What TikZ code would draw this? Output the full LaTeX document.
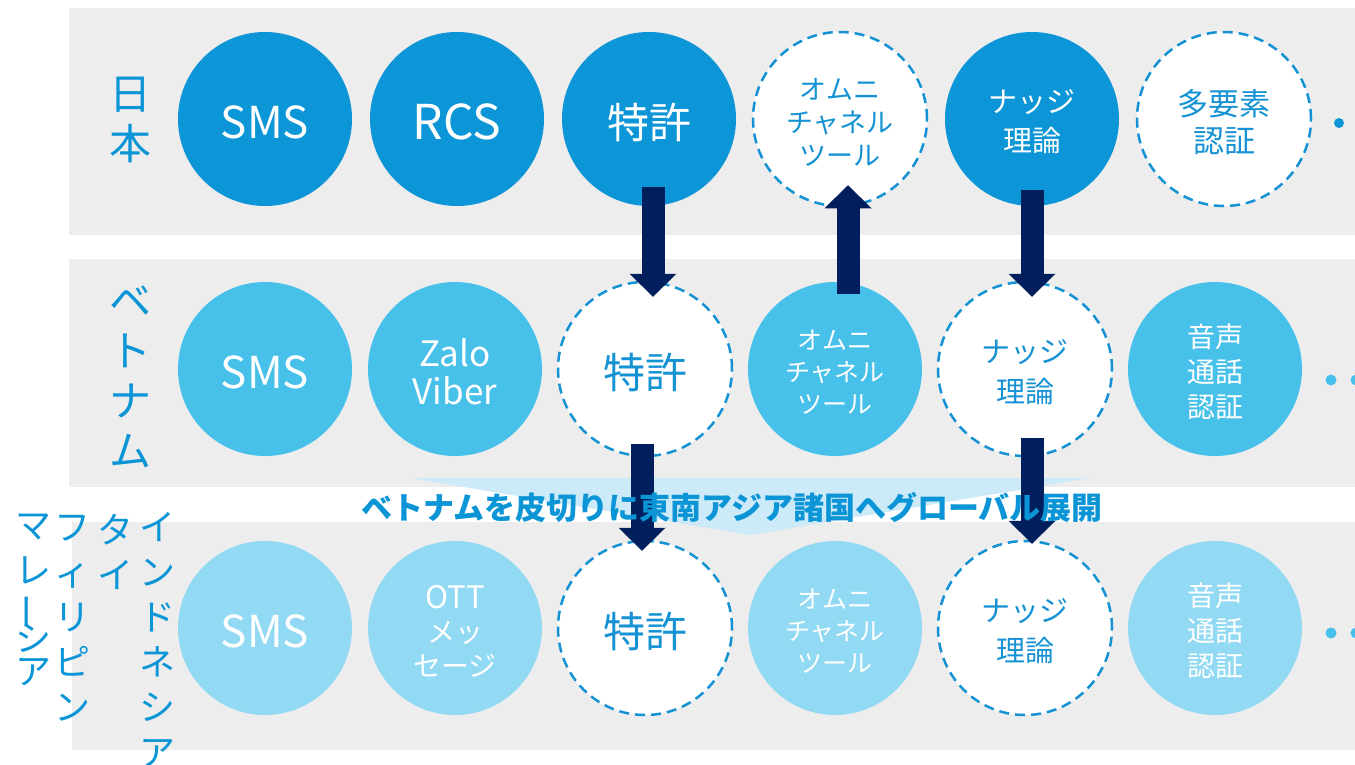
\documentclass[tikz,border=0pt]{standalone}
\usepackage{fontspec}
\usepackage{graphicx}
\setmainfont{Noto Sans CJK JP}
\usetikzlibrary{arrows.meta,calc}
\definecolor{c1}{HTML}{0C95D7}
\definecolor{c2}{HTML}{47C0EA}
\definecolor{c3}{HTML}{92DAF3}
\definecolor{dashc}{HTML}{1592D4}
\definecolor{navy}{HTML}{001F5C}
\definecolor{bandc}{HTML}{EDEDED}
\definecolor{chev}{HTML}{CDEAF9}
\definecolor{lbl}{HTML}{0B95D6}
\newcommand\fz[2]{\fontsize{#1}{#2}\selectfont}
\newcommand\dn[1]{\raisebox{-3pt}[\height][\depth]{#1}}
\tikzset{
 circ/.style={circle, minimum size=174pt, inner sep=0pt, align=center},
 fillA/.style={circ, fill=c1, text=white},
 fillB/.style={circ, fill=c2, text=white},
 fillC/.style={circ, fill=c3, text=white},
 dashcirc/.style={circ, fill=white, draw=dashc, line width=2.5pt, dash pattern=on 10pt off 6pt, text=dashc},
 bigarrow/.style={draw=navy, line width=23pt, -{Triangle[width=47pt,length=23pt,line width=0pt]}},
 bandbox/.style={fill=bandc},
 vlabel/.style={text=lbl, align=center, inner sep=0pt},
 dotA/.style={circle, fill=c1, minimum size=10pt, inner sep=0pt},
 dotB/.style={circle, fill=c2, minimum size=11pt, inner sep=0pt},
}
\begin{document}
\begin{tikzpicture}[x=1pt,y=-1pt]
\useasboundingbox (0,0) rectangle (1355,764);
\fill[white] (0,0) rectangle (1355,764);
% bands
\fill[bandbox] (69,8) rectangle (1355,235);
\fill[bandbox] (69,259) rectangle (1355,487);
\fill[bandbox] (72,522) rectangle (1355,750);
% chevron
\fill[chev] (410,478) -- (1090,478) -- (750,535) -- cycle;
% row 1
\node[fillA, font=\fz{44}{50}] (r1c1) at (265,119) {\dn{SMS}};
\node[fillA, font=\fz{48}{54}] (r1c2) at (457,119) {\dn{RCS}};
\node[fillA, font=\fz{42}{48}] (r1c3) at (649,119) {\dn{特許}};
\node[dashcirc, font=\fz{27}{33}] (r1c4) at (840,119) {\dn{オムニ}\\\dn{チャネル}\\\dn{ツール}};
\node[fillA, font=\fz{29}{39}] (r1c5) at (1032,119) {\dn{ナッジ}\\\dn{理論}};
\node[dashcirc, font=\fz{31}{37}] (r1c6) at (1224,119) {\dn{多要素}\\\dn{認証}};
\node[dotA] (d1) at (1339,123) {};
% row 2
\node[fillB, font=\fz{44}{50}] (r2c1) at (265,369) {\dn{SMS}};
\node[fillB, font=\fz{35}{38}] (r2c2) at (455,369) {\dn{Zalo}\\\dn{Viber}};
\node[dashcirc, font=\fz{42}{48}] (r2c3) at (645,369) {\dn{特許}};
\node[fillB, font=\fz{25}{32}] (r2c4) at (835,369) {\dn{オムニ}\\\dn{チャネル}\\\dn{ツール}};
\node[dashcirc, font=\fz{29}{40}] (r2c5) at (1025,369) {\dn{ナッジ}\\\dn{理論}};
\node[fillB, font=\fz{28}{35}] (r2c6) at (1215,369) {\dn{音声}\\\dn{通話}\\\dn{認証}};
\node[dotB] (d2a) at (1331,380) {};
\node[dotB] (d2b) at (1356,380) {};
% row 3
\node[fillC, font=\fz{44}{50}] (r3c1) at (265,628) {\dn{SMS}};
\node[fillC, font=\fz{28}{34}] (r3c2) at (455,628) {\dn{\fz{31}{34}OTT}\\\dn{メッ}\\\dn{セージ}};
\node[dashcirc, font=\fz{42}{48}] (r3c3) at (645,628) {\dn{特許}};
\node[fillC, font=\fz{25}{32}] (r3c4) at (835,628) {\dn{オムニ}\\\dn{チャネル}\\\dn{ツール}};
\node[dashcirc, font=\fz{29}{40}] (r3c5) at (1025,628) {\dn{ナッジ}\\\dn{理論}};
\node[fillC, font=\fz{28}{35}] (r3c6) at (1215,628) {\dn{音声}\\\dn{通話}\\\dn{認証}};
\node[dotB] (d3a) at (1331,633) {};
\node[dotB] (d3b) at (1356,633) {};
% arrows
\draw[bigarrow] ([xshift=4pt,yshift=19pt]r1c3.south) -- ([xshift=8pt,yshift=-16pt]r2c3.north);
\draw[bigarrow] ([xshift=13pt,yshift=-12pt]r2c4.north) -- ([xshift=8pt,yshift=22pt]r1c4.south);
\draw[bigarrow] ([xshift=0pt,yshift=16pt]r1c5.south) -- ([xshift=7pt,yshift=-16pt]r2c5.north);
\draw[bigarrow] ([xshift=-3pt,yshift=13pt]r2c3.south) -- ([xshift=-3pt,yshift=-11pt]r3c3.north);
\draw[bigarrow] ([xshift=7pt,yshift=19pt]r2c5.south) -- ([xshift=7pt,yshift=-4pt]r3c5.north);
% banner text
\node[text=lbl, inner sep=0pt, font=\fz{31}{36}\bfseries] (banner) at (732,507) {ベトナムを皮切りに東南アジア諸国へグローバル展開};
% left labels
\node[vlabel, anchor=center, font=\fz{42}{50}] (lab1) at (130,120) {日\\本};
\node[vlabel, anchor=north, font=\fz{42}{50}] (lab2) at (130,286) {ベ\\ト\\ナ\\ム};
\node[vlabel, anchor=north, font=\fz{36}{45}] (lab3a) at (157,512) {イ\\ン\\ド\\ネ\\シ\\ア};
\node[vlabel, anchor=north, font=\fz{36}{45}] (lab3b) at (115,514) {タ\\イ};
\node[vlabel, anchor=north, font=\fz{36}{45}] (lab3c) at (72,515) {フ\\ィ\\リ\\ピ\\ン};
\node[vlabel, anchor=north, font=\fz{36}{45}] (lab3d) at (33,514) {マ\\レ\\[-10pt]\raisebox{0pt}[28pt][2pt]{\rotatebox[origin=c]{90}{ー}}\\[-12pt]シ\\[-12pt]ア};
\end{tikzpicture}
\end{document}
